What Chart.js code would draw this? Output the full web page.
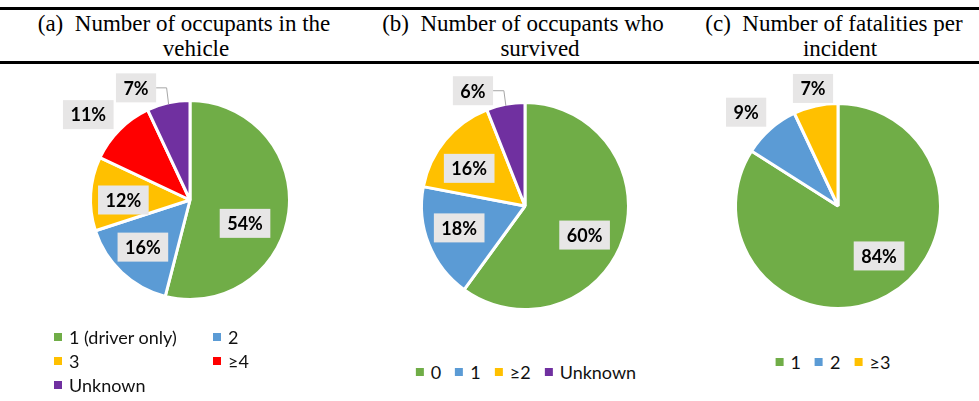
<!DOCTYPE html>
<html>
<head>
<meta charset="utf-8">
<script src="https://cdn.jsdelivr.net/npm/chart.js@4"></script>
<style>
    body { margin: 0; background: #fff; width: 979px; height: 401px; position: relative; overflow: hidden; }
    .rule { position: absolute; left: 0; width: 979px; height: 3px; background: #000; }
    .title { position: absolute; font-family: "Liberation Serif", "Times New Roman", serif; font-size: 23px; line-height: 26px; color: #000; white-space: pre; transform: translateX(-50%); }
    canvas { position: absolute; }
    .legend { position: absolute; font-family: Lato, sans-serif; font-size: 18px; color: #111; }
    .legend .item { display: flex; align-items: center; white-space: nowrap; height: 24px; }
    .legend .item i { display: inline-block; width: 8px; height: 8px; margin-right: 7px; }
    #legendA { left: 54px; top: 325px; display: grid; grid-template-columns: 159px auto; }
    #legendB { left: 526px; top: 360px; display: flex; gap: 14px; transform: translateX(-50%); }
    #legendC { left: 833px; top: 350px; display: flex; gap: 14px; transform: translateX(-50%); }
</style>
</head>
<body>
<div class="rule" style="top:7px"></div>
<div class="rule" style="top:61px"></div>

<div class="title" style="left:184px;top:11px">(a)  Number of occupants in the</div>
<div class="title" style="left:196px;top:36px">vehicle</div>
<div class="title" style="left:523px;top:11px">(b)  Number of occupants who</div>
<div class="title" style="left:540px;top:36px">survived</div>
<div class="title" style="left:834px;top:11px">(c)  Number of fatalities per</div>
<div class="title" style="left:840px;top:36px">incident</div>

<canvas id="pieA" width="340" height="280" style="left:20px;top:60px"></canvas>
<canvas id="pieB" width="320" height="280" style="left:365px;top:66px"></canvas>
<canvas id="pieC" width="280" height="280" style="left:698px;top:66px"></canvas>

<div class="legend" id="legendA"></div>
<div class="legend" id="legendB"></div>
<div class="legend" id="legendC"></div>

<script>
const occupantLabels = ['1 (driver only)', '2', '3', '≥4', 'Unknown'];
const occupantShares = [54, 16, 12, 11, 7];
const occupantColors = ['#70AD47', '#5B9BD5', '#FFC000', '#FF0000', '#7030A0'];

const survivorLabels = ['0', '1', '≥2', 'Unknown'];
const survivorShares = [60, 18, 16, 6];
const survivorColors = ['#70AD47', '#5B9BD5', '#FFC000', '#7030A0'];

const fatalityLabels = ['1', '2', '≥3'];
const fatalityShares = [84, 9, 7];
const fatalityColors = ['#70AD47', '#5B9BD5', '#FFC000'];

// grey percentage boxes, placed by angle (deg) and fraction of the radius
const boxLabels = {
    id: 'boxLabels',
    afterDatasetsDraw(chart, args, opts) {
        const ctx = chart.ctx;
        const values = chart.data.datasets[0].data;
        const total = values.reduce((s, v) => s + v, 0);
        ctx.save();
        ctx.font = 'bold 18px Lato';
        ctx.textAlign = 'center';
        ctx.textBaseline = 'middle';
        chart.getDatasetMeta(0).data.forEach((arc, i) => {
            const p = arc.getProps(['x', 'y', 'startAngle', 'endAngle', 'outerRadius'], true);
            const r = p.outerRadius - 1.5;
            const [deg, k] = opts.place[i];
            const a = deg * Math.PI / 180;
            const lx = p.x + Math.cos(a) * r * k;
            const ly = p.y + Math.sin(a) * r * k;
            const text = Math.round(values[i] / total * 100) + '%';
            const w = ctx.measureText(text).width + 15;
            const h = 29;
            if (opts.leader === i) {
                const mid = (p.startAngle + p.endAngle) / 2;
                const ex = p.x + Math.cos(mid) * r;
                const ey = p.y + Math.sin(mid) * r;
                ctx.strokeStyle = '#a6a6a6';
                ctx.lineWidth = 1;
                ctx.beginPath();
                ctx.moveTo(lx + w / 2, ly);
                ctx.lineTo(ex - 2, ly);
                ctx.lineTo(ex, ey);
                ctx.stroke();
            }
            ctx.fillStyle = '#e7e6e6';
            ctx.fillRect(lx - w / 2, ly - h / 2, w, h);
            ctx.fillStyle = '#000';
            ctx.fillText(text, lx, ly + 1);
        });
        ctx.restore();
    }
};

function makePie(id, labels, values, colors, radius, place, leader) {
    return new Chart(document.getElementById(id), {
        type: 'pie',
        data: {
            labels: labels,
            datasets: [{
                data: values,
                backgroundColor: colors,
                borderColor: '#fff',
                borderWidth: 3,
                radius: radius + 1.5,
                hoverOffset: 0,
            }]
        },
        options: {
            responsive: false,
            animation: false,
            events: [],
            plugins: {
                legend: { display: false },
                tooltip: { enabled: false },
                boxLabels: { place: place, leader: leader },
            },
        },
        plugins: [boxLabels],
    });
}

function buildLegend(chart, el) {
    chart.options.plugins.legend.labels.generateLabels(chart).forEach(item => {
        const div = document.createElement('div');
        div.className = 'item';
        const box = document.createElement('i');
        box.style.background = item.fillStyle;
        div.appendChild(box);
        div.appendChild(document.createTextNode(item.text));
        el.appendChild(div);
    });
}

const pieA = makePie('pieA', occupantLabels, occupantShares, occupantColors, 98,
    [[23, 0.61], [135, 0.68], [180, 0.68], [220, 1.355], [244.3, 1.27]], 4);
const pieB = makePie('pieB', survivorLabels, survivorShares, survivorColors, 102,
    [[26, 0.65], [161.6, 0.68], [214, 0.66], [245.7, 1.24]], 3);
const pieC = makePie('pieC', fatalityLabels, fatalityShares, fatalityColors, 101,
    [[50.6, 0.64], [225.6, 1.30], [258, 1.19]], -1);

buildLegend(pieA, document.getElementById('legendA'));
buildLegend(pieB, document.getElementById('legendB'));
buildLegend(pieC, document.getElementById('legendC'));
</script>
</body>
</html>
